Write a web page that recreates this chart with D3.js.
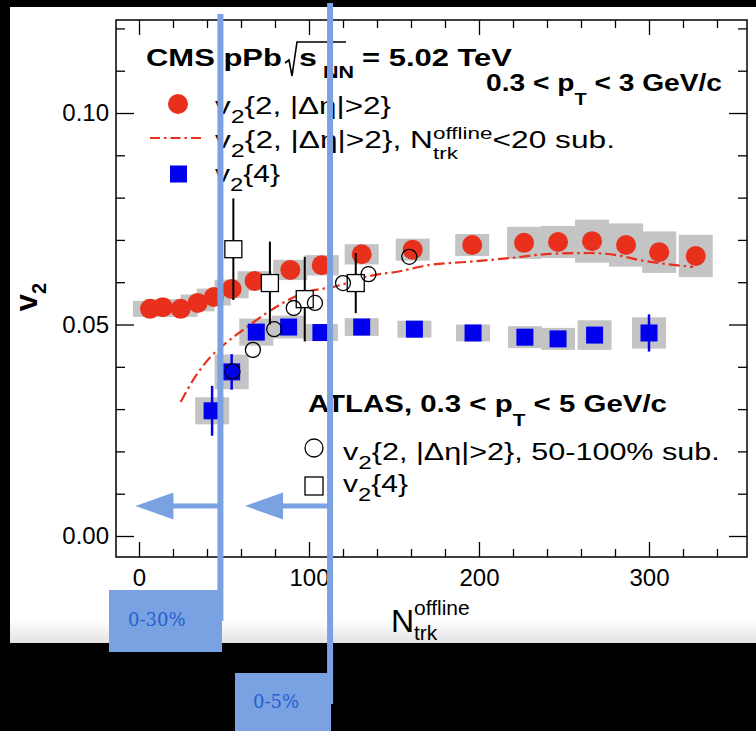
<!DOCTYPE html>
<html>
<head>
<meta charset="utf-8">
<script src="https://cdn.jsdelivr.net/npm/d3@7"></script>
<style>
  html, body { margin: 0; padding: 0; background: #000; }
  svg { display: block; font-family: "Liberation Sans", Arial, Helvetica, sans-serif; }
</style>
</head>
<body>
<svg id="chart" width="756" height="731"></svg>
<script>
// ---------------- data ----------------
// CMS pPb v2{2,|Δη|>2}
const cmsN   = [6.5, 14, 24.5, 34.5, 44, 54.5, 68, 89, 107.5, 131, 161, 196, 226.5, 246.5, 266.5, 286.5, 306, 327.5];
const cmsV2  = [0.0537, 0.0541, 0.0537, 0.0551, 0.0565, 0.0584, 0.0603, 0.0629, 0.0640, 0.0666, 0.0677, 0.0688, 0.0693, 0.0695, 0.0697, 0.0688, 0.0671, 0.0662];
const cmsSys = [0.0019, 0.0019, 0.0019, 0.0020, 0.0020, 0.0022, 0.0023, 0.0024, 0.0024, 0.0024, 0.0026, 0.0026, 0.0038, 0.0038, 0.0051, 0.0051, 0.0049, 0.0050];

// CMS v2{2,|Δη|>2} with N_trk^offline < 20 subtracted
const subN  = [24.5, 33, 42, 52, 63.5, 75, 96.5, 116.5, 136, 153.5, 171, 193, 218, 242, 265, 281, 295, 306.5, 326];
const subV2 = [0.0317, 0.0376, 0.0423, 0.0459, 0.0494, 0.0527, 0.0574, 0.0591, 0.0615, 0.0626, 0.0641, 0.0648, 0.0657, 0.0667, 0.0669, 0.0664, 0.0652, 0.0645, 0.0636];

// CMS v2{4}
const cms4N    = [43, 54.5, 69, 88, 107, 131, 162, 196.5, 227, 246.5, 268, 300];
const cms4V2   = [0.0296, 0.0388, 0.0482, 0.0494, 0.0481, 0.0494, 0.0489, 0.0480, 0.0470, 0.0466, 0.0475, 0.0480];
const cms4Stat = [0.0059, 0.0042, 0.0010, 0.0010, 0.0010, 0.0010, 0.0010, 0.0010, 0.0010, 0.0010, 0.0010, 0.0044];
const cms4Sys  = [0.0032, 0.0041, 0.0032, 0.0027, 0.0020, 0.0021, 0.0020, 0.0020, 0.0026, 0.0026, 0.0035, 0.0037];
const sysHalfWidth = 10;   // half-width of the systematic boxes, in N_trk units

// ATLAS v2{2,|Δη|>2}, 50-100% subtracted
const atlasN2  = [55, 67, 79.5, 91, 103.5, 120, 135, 159];
const atlasV22 = [0.0389, 0.0440, 0.0489, 0.0539, 0.0551, 0.0598, 0.0619, 0.0660];
// ATLAS v2{4}
const atlasN4   = [55.5, 77, 97.5, 127.5];
const atlasV24  = [0.0678, 0.0598, 0.0560, 0.0598];
const atlasErr4 = [0.0120, 0.0098, 0.0100, 0.0071];

// axes
const xMajor = [0, 100, 200, 300];
const xMinor = [20, 40, 60, 80, 120, 140, 160, 180, 220, 240, 260, 280, 320, 340];
const yMajor = [0, 0.05, 0.10];
const yMajorLabels = ["0.00", "0.05", "0.10"];
const yMinor = [0.01, 0.02, 0.03, 0.04, 0.06, 0.07, 0.08, 0.09, 0.11, 0.12];

// centrality cuts marked on top
const cuts = [
  { label: "0-30%", n: 47.9, top: 14, bottom: 621, box: [109, 590, 113, 62], text: [128, 626] },
  { label: "0-5%",  n: 112.4, top: 3,  bottom: 704, box: [235, 673, 96, 58],  text: [253, 708] }
];
const arrowLevel = 0.0071;

// ---------------- colours ----------------
const RED = "#e8301c", BLUE = "#0000ee", GREY = "#c4c4c4", CUT = "#7aa2e2", CUTTEXT = "#2560cf";
const NBSP = "\u00A0";

// ---------------- canvas ----------------
const W = 756, H = 731;
const svg = d3.select("#chart");
const defs = svg.append("defs");
const fade = defs.append("linearGradient").attr("id", "fade").attr("x1", 0).attr("y1", 0).attr("x2", 0).attr("y2", 1);
fade.append("stop").attr("offset", 0.965).attr("stop-color", "#fff");
fade.append("stop").attr("offset", 1).attr("stop-color", "#e2e2e2");

svg.append("rect").attr("width", W).attr("height", H).attr("fill", "#000");
svg.append("rect").attr("x", 10).attr("y", 7).attr("width", W - 10).attr("height", 636).attr("fill", "url(#fade)");

const L = 116, R = 747, T = 20, B = 557;
const x = d3.scaleLinear().domain([-13.53, 357.65]).range([L, R]);
const y = d3.scaleLinear().domain([-0.004965, 0.12199]).range([B, T]);

// ---------------- axes ----------------
function styleAxis(g) {
  g.select(".domain").remove();
  g.selectAll(".tick line").attr("stroke", "#000").attr("stroke-width", 1.3);
  g.selectAll("text").attr("fill", "#000").attr("font-size", 24).attr("font-family", "Liberation Sans, Arial, sans-serif");
}
svg.append("g").attr("transform", `translate(${L},0)`)
  .call(d3.axisLeft(y).tickValues(yMajor).tickSize(-18).tickPadding(7).tickFormat((d, i) => yMajorLabels[i])).call(styleAxis);
svg.append("g").attr("transform", `translate(${L},0)`)
  .call(d3.axisLeft(y).tickValues(yMinor).tickSize(-9).tickFormat("")).call(styleAxis);
svg.append("g").attr("transform", `translate(${R},0)`)
  .call(d3.axisRight(y).tickValues(yMajor).tickSize(-18).tickFormat("")).call(styleAxis);
svg.append("g").attr("transform", `translate(${R},0)`)
  .call(d3.axisRight(y).tickValues(yMinor).tickSize(-9).tickFormat("")).call(styleAxis);
svg.append("g").attr("transform", `translate(0,${B})`)
  .call(d3.axisBottom(x).tickValues(xMajor).tickSize(-15).tickPadding(12).tickFormat(d3.format("d"))).call(styleAxis);
svg.append("g").attr("transform", `translate(0,${B})`)
  .call(d3.axisBottom(x).tickValues(xMinor).tickSize(-8).tickFormat("")).call(styleAxis);
svg.append("g").attr("transform", `translate(0,${T})`)
  .call(d3.axisTop(x).tickValues(xMajor).tickSize(-15).tickFormat("")).call(styleAxis);
svg.append("g").attr("transform", `translate(0,${T})`)
  .call(d3.axisTop(x).tickValues(xMinor).tickSize(-8).tickFormat("")).call(styleAxis);

svg.append("rect").attr("x", L).attr("y", T).attr("width", R - L).attr("height", B - T)
  .attr("fill", "none").attr("stroke", "#000").attr("stroke-width", 1.5);

// axis titles
const yl = svg.append("text").attr("transform", "translate(37,297) rotate(-90)")
  .attr("text-anchor", "middle").attr("font-weight", "bold").attr("font-size", 31);
yl.append("tspan").text("v");
yl.append("tspan").attr("font-size", 20).attr("dy", 9).text("2");

svg.append("text").attr("x", 391).attr("y", 632).attr("font-size", 32).text("N");
svg.append("text").attr("x", 414).attr("y", 615).attr("font-size", 21).text("offline");
svg.append("text").attr("x", 414).attr("y", 640).attr("font-size", 21).text("trk");

// ---------------- data marks ----------------
const plot = svg.append("g");
const cms  = cmsN.map((n, i) => ({ n, v: cmsV2[i], s: cmsSys[i] }));
const cms4 = cms4N.map((n, i) => ({ n, v: cms4V2[i], e: cms4Stat[i], s: cms4Sys[i] }));
const sub  = subN.map((n, i) => ({ n, v: subV2[i] }));
const at2  = atlasN2.map((n, i) => ({ n, v: atlasV22[i] }));
const at4  = atlasN4.map((n, i) => ({ n, v: atlasV24[i], e: atlasErr4[i] }));

// systematic boxes
plot.append("g").selectAll("rect").data(cms.concat(cms4)).join("rect")
  .attr("x", d => x(d.n - sysHalfWidth)).attr("width", d => x(d.n + sysHalfWidth) - x(d.n - sysHalfWidth))
  .attr("y", d => y(d.v + d.s)).attr("height", d => y(d.v - d.s) - y(d.v + d.s))
  .attr("fill", GREY);

// subtracted curve
plot.append("path").datum(sub)
  .attr("d", d3.line().x(d => x(d.n)).y(d => y(d.v)).curve(d3.curveMonotoneX))
  .attr("fill", "none").attr("stroke", RED).attr("stroke-width", 2.2).attr("stroke-dasharray", "11,4,2.5,4");

// v2{4} stat errors and markers
plot.append("g").selectAll("line").data(cms4).join("line")
  .attr("x1", d => x(d.n)).attr("x2", d => x(d.n))
  .attr("y1", d => y(d.v + d.e)).attr("y2", d => y(d.v - d.e))
  .attr("stroke", BLUE).attr("stroke-width", 2.5);
plot.append("g").selectAll("rect").data(cms4).join("rect")
  .attr("x", d => x(d.n) - 8.5).attr("y", d => y(d.v) - 8.5).attr("width", 17).attr("height", 17)
  .attr("fill", BLUE);

// v2{2} markers
plot.append("g").selectAll("circle").data(cms).join("circle")
  .attr("cx", d => x(d.n)).attr("cy", d => y(d.v)).attr("r", 10).attr("fill", RED);

// ATLAS
plot.append("g").selectAll("line").data(at4).join("line")
  .attr("x1", d => x(d.n)).attr("x2", d => x(d.n))
  .attr("y1", d => y(d.v + d.e)).attr("y2", d => y(d.v - d.e))
  .attr("stroke", "#000").attr("stroke-width", 2);
plot.append("g").selectAll("rect").data(at4).join("rect")
  .attr("x", d => x(d.n) - 8.5).attr("y", d => y(d.v) - 8.5).attr("width", 17).attr("height", 17)
  .attr("fill", "#fff").attr("stroke", "#000").attr("stroke-width", 1.3);
plot.append("g").selectAll("circle").data(at2).join("circle")
  .attr("cx", d => x(d.n)).attr("cy", d => y(d.v)).attr("r", 7.5)
  .attr("fill", "none").attr("stroke", "#000").attr("stroke-width", 1.3);

// ---------------- legend text ----------------
// lays out a run of text pieces (sub/superscripts included) and fits it between x0 and x1
function compose(x0, baseline, x1, pieces) {
  const g = svg.append("g");
  let cx = 0, lastStart = 0;
  pieces.forEach(p => {
    const start = p.stack ? lastStart : cx;
    const t = g.append("text").attr("x", start).attr("y", p.dy || 0)
      .attr("font-size", p.size || 24).attr("font-weight", p.bold ? "bold" : "normal")
      .text(p.t.replace(/ /g, NBSP));
    const w = t.node().getComputedTextLength();
    if (p.stack) cx = Math.max(cx, start + w);
    else { lastStart = start; cx = start + w; }
  });
  const k = (x1 - x0) / cx;
  g.attr("transform", `translate(${x0},${baseline}) scale(${k},1)`);
  return g;
}
const SUB = { size: 19, dy: 9 };

// CMS header
compose(146, 66, 282, [{ t: "CMS pPb", bold: true }]);
svg.append("path").attr("d", "M285,63 L289,60 L292,76 L297,42 L346,42")
  .attr("fill", "none").attr("stroke", "#000").attr("stroke-width", 1.6);
compose(299, 66, 354, [{ t: "s", bold: true }, { t: " NN", size: 16, dy: 12, bold: true }]);
compose(362, 66, 512, [{ t: "= 5.02 TeV", bold: true }]);
compose(486, 91, 722, [{ t: "0.3 < p", bold: true }, { t: "T", size: 17, dy: 14, bold: true }, { t: " < 3 GeV/c", bold: true }]);

// CMS legend
svg.append("circle").attr("cx", 178).attr("cy", 104).attr("r", 10).attr("fill", RED);
svg.append("line").attr("x1", 150).attr("x2", 205).attr("y1", 138).attr("y2", 138)
  .attr("stroke", RED).attr("stroke-width", 2.2).attr("stroke-dasharray", "10,4,2.5,4");
svg.append("rect").attr("x", 170).attr("y", 165.5).attr("width", 17).attr("height", 17).attr("fill", BLUE);
compose(215, 114, 391, [{ t: "v" }, { t: "2", ...SUB }, { t: "{2, |Δη|>2}" }]);
compose(215, 148, 615, [{ t: "v" }, { t: "2", ...SUB }, { t: "{2, |Δη|>2}, N" },
  { t: "offline", size: 17, dy: -9 }, { t: "trk", size: 17, dy: 11, stack: true }, { t: "<20 sub." }]);
compose(215, 182, 280, [{ t: "v" }, { t: "2", ...SUB }, { t: "{4}" }]);

// ATLAS legend
compose(308, 412, 667, [{ t: "ATLAS, 0.3 < p", bold: true }, { t: "T", size: 17, dy: 14, bold: true }, { t: " < 5 GeV/c", bold: true }]);
svg.append("circle").attr("cx", 314).attr("cy", 448).attr("r", 9)
  .attr("fill", "none").attr("stroke", "#000").attr("stroke-width", 1.3);
svg.append("rect").attr("x", 305).attr("y", 477).attr("width", 18).attr("height", 18)
  .attr("fill", "#fff").attr("stroke", "#000").attr("stroke-width", 1.3);
compose(343, 460, 720, [{ t: "v" }, { t: "2", ...SUB }, { t: "{2, |Δη|>2}, 50-100% sub." }]);
compose(343, 492, 408, [{ t: "v" }, { t: "2", ...SUB }, { t: "{4}" }]);

// ---------------- centrality cuts ----------------
const ov = svg.append("g");
cuts.forEach(c => {
  const cx = x(c.n), ay = y(arrowLevel);
  const tip = cx - 85, base = tip + 38;
  ov.append("rect").attr("x", cx - 3).attr("y", c.top).attr("width", 6).attr("height", c.bottom - c.top).attr("fill", CUT);
  ov.append("rect").attr("x", base - 1).attr("y", ay - 2.5).attr("width", cx - base).attr("height", 5).attr("fill", CUT);
  ov.append("path").attr("d", `M${tip},${ay} L${base},${ay - 13.5} L${base},${ay + 13.5} Z`).attr("fill", CUT);
  ov.append("rect").attr("x", c.box[0]).attr("y", c.box[1]).attr("width", c.box[2]).attr("height", c.box[3]).attr("fill", CUT);
  ov.append("text").attr("x", c.text[0]).attr("y", c.text[1]).attr("font-family", "'DejaVu Serif', serif")
    .attr("font-size", 18).attr("fill", CUTTEXT).text(c.label);
});
</script>
</body>
</html>
